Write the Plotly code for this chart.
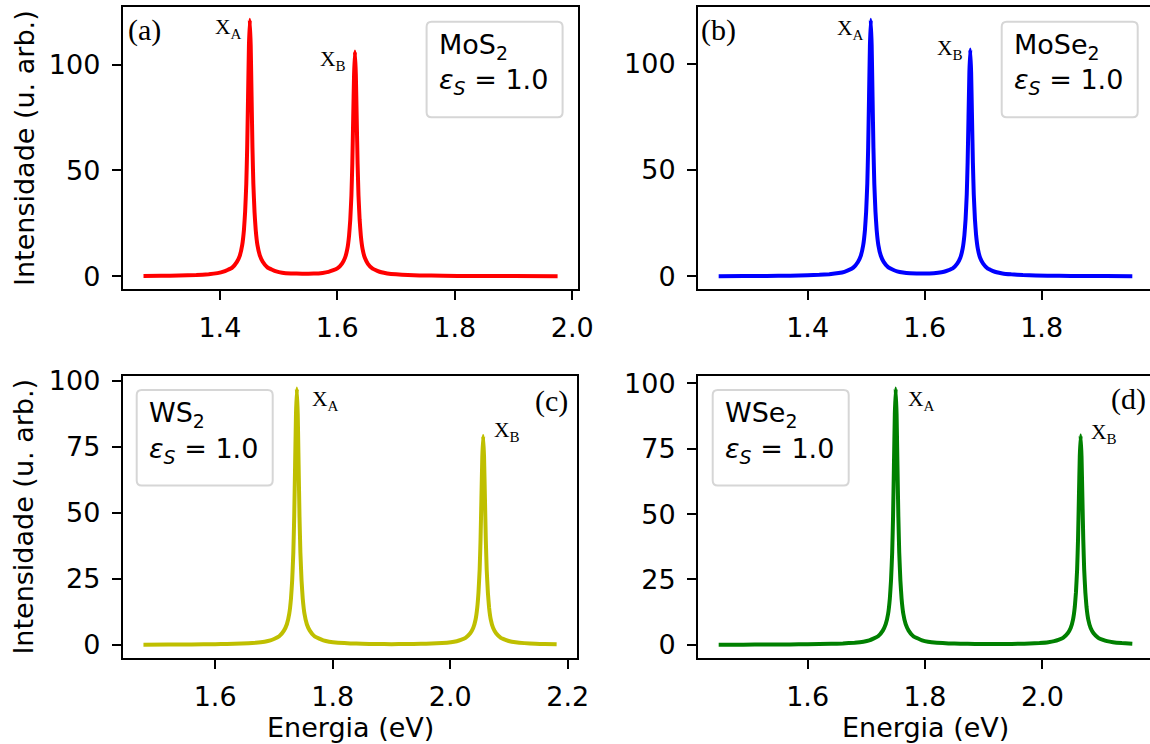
import plotly.graph_objects as go

W, H = 1150, 744

# ---------------- data ----------------
# (a) MoS2
E_a = [1.270, 1.30, 1.33, 1.36, 1.381, 1.396, 1.406, 1.413, 1.421, 1.429, 1.434, 1.438, 1.441, 1.443,
       1.445, 1.4465, 1.448, 1.4495, 1.451, 1.4525, 1.454, 1.4555, 1.457, 1.459, 1.461, 1.464, 1.468,
       1.473, 1.481, 1.489, 1.496, 1.506, 1.521, 1.54, 1.56, 1.575, 1.585, 1.592, 1.600, 1.608, 1.613,
       1.617, 1.620, 1.622, 1.624, 1.6255, 1.627, 1.6285, 1.630, 1.6315, 1.633, 1.6345, 1.636, 1.638,
       1.640, 1.643, 1.647, 1.652, 1.660, 1.668, 1.675, 1.685, 1.70, 1.72, 1.74, 1.78, 1.83, 1.90, 1.975]
I_a = [0.15, 0.22, 0.34, 0.6, 0.98, 1.5, 2.16, 3.0, 4.1, 6.8, 9.8, 14.7, 21.9, 30.4,
       43.7, 60.6, 84.8, 109.0, 121.2, 109.1, 84.9, 60.7, 43.8, 30.4, 22.0, 14.7, 9.9,
       6.9, 4.2, 3.1, 2.3, 1.7, 1.35, 1.25, 1.27, 1.6, 2.1, 2.75, 3.7, 6.0, 8.7,
       12.9, 19.3, 26.7, 38.3, 53.2, 74.4, 95.5, 106.2, 95.5, 74.4, 53.2, 38.3, 26.6,
       19.2, 12.8, 8.6, 5.9, 3.6, 2.6, 1.9, 1.35, 0.93, 0.62, 0.43, 0.25, 0.14, 0.08, 0.05]

# (b) MoSe2
E_b = [1.248, 1.29, 1.33, 1.37, 1.40, 1.42, 1.437, 1.453, 1.463, 1.470, 1.478, 1.486, 1.491, 1.495,
       1.498, 1.500, 1.502, 1.5035, 1.505, 1.5065, 1.508, 1.5095, 1.511, 1.5125, 1.514, 1.516, 1.518,
       1.521, 1.525, 1.530, 1.538, 1.546, 1.553, 1.563, 1.575, 1.593, 1.608, 1.623, 1.633, 1.640, 1.648,
       1.656, 1.661, 1.665, 1.668, 1.670, 1.672, 1.6735, 1.675, 1.6765, 1.678, 1.6795, 1.681, 1.6825,
       1.684, 1.686, 1.688, 1.691, 1.695, 1.700, 1.708, 1.716, 1.723, 1.733, 1.748, 1.768, 1.79, 1.83,
       1.87, 1.91, 1.955]
I_b = [0.08, 0.12, 0.19, 0.3, 0.48, 0.7, 1.02, 1.55, 2.13, 2.9, 4.08, 6.74, 9.76, 14.6,
       21.8, 30.25, 43.5, 60.4, 84.5, 108.6, 120.65, 108.6, 84.5, 60.4, 43.5, 30.3, 21.9,
       14.6, 9.8, 6.8, 4.2, 3.1, 2.35, 1.8, 1.46, 1.36, 1.35, 1.7, 2.15, 2.8, 3.76,
       6.1, 8.74, 13.0, 19.4, 26.8, 38.5, 53.4, 74.7, 96.0, 106.7, 96.0, 74.7, 53.4,
       38.5, 26.8, 19.3, 12.9, 8.6, 6.0, 3.6, 2.6, 1.9, 1.35, 0.93, 0.6, 0.42, 0.25,
       0.16, 0.1, 0.07]

# (c) WS2
E_c = [1.478, 1.52, 1.56, 1.60, 1.62, 1.645, 1.669, 1.684, 1.694, 1.701, 1.709, 1.717, 1.722, 1.726,
       1.729, 1.731, 1.733, 1.7345, 1.736, 1.7375, 1.739, 1.7405, 1.742, 1.7435, 1.745, 1.747, 1.749,
       1.752, 1.756, 1.761, 1.769, 1.777, 1.784, 1.794, 1.809, 1.83, 1.85, 1.875, 1.90, 1.925, 1.95,
       1.968, 1.986, 2.001, 2.011, 2.018, 2.026, 2.034, 2.039, 2.043, 2.046, 2.048, 2.050, 2.0515, 2.053,
       2.0545, 2.056, 2.0575, 2.059, 2.0605, 2.062, 2.064, 2.066, 2.069, 2.073, 2.078, 2.086, 2.094,
       2.101, 2.111, 2.126, 2.145, 2.16, 2.181]
I_c = [0.06, 0.09, 0.15, 0.25, 0.31, 0.5, 0.81, 1.2, 1.68, 2.3, 3.24, 5.38, 7.8, 11.7,
       17.5, 24.3, 34.95, 48.55, 67.95, 87.35, 97.05, 87.35, 67.95, 48.55, 34.95, 24.3, 17.5,
       11.7, 7.8, 5.4, 3.25, 2.35, 1.69, 1.2, 0.83, 0.55, 0.41, 0.32, 0.27, 0.3, 0.38,
       0.5, 0.69, 1.0, 1.39, 1.85, 2.66, 4.4, 6.37, 9.5, 14.25, 19.8, 28.45, 39.55, 55.35,
       71.15, 79.05, 71.15, 55.35, 39.55, 28.45, 19.8, 14.25, 9.5, 6.35, 4.4, 2.65, 1.9,
       1.36, 0.98, 0.65, 0.42, 0.32, 0.23]

# (d) WSe2
E_d = [1.4485, 1.49, 1.53, 1.57, 1.60, 1.64, 1.66, 1.68, 1.695, 1.705, 1.712, 1.72, 1.728, 1.733,
       1.737, 1.740, 1.742, 1.744, 1.7455, 1.747, 1.7485, 1.750, 1.7515, 1.753, 1.7545, 1.756, 1.758,
       1.760, 1.763, 1.767, 1.772, 1.780, 1.788, 1.795, 1.805, 1.82, 1.84, 1.86, 1.885, 1.91, 1.935,
       1.96, 1.978, 1.995, 2.01, 2.02, 2.027, 2.035, 2.043, 2.048, 2.052, 2.055, 2.057, 2.059, 2.0605,
       2.062, 2.0635, 2.065, 2.0665, 2.068, 2.0695, 2.071, 2.073, 2.075, 2.078, 2.082, 2.087, 2.095,
       2.103, 2.11, 2.12, 2.135, 2.153]
I_d = [0.05, 0.07, 0.1, 0.15, 0.2, 0.38, 0.52, 0.81, 1.2, 1.7, 2.35, 3.27, 5.43, 7.88,
       11.8, 17.7, 24.55, 35.3, 49.05, 68.65, 88.25, 98.05, 88.25, 68.65, 49.05, 35.3, 24.55,
       17.7, 11.8, 7.9, 5.45, 3.3, 2.4, 1.71, 1.2, 0.83, 0.55, 0.41, 0.32, 0.27, 0.31,
       0.39, 0.5, 0.7, 1.02, 1.41, 1.88, 2.69, 4.45, 6.45, 9.65, 14.45, 20.05, 28.85, 40.05,
       56.05, 72.05, 80.05, 72.05, 56.05, 40.05, 28.85, 20.05, 14.45, 9.65, 6.45, 4.45, 2.69,
       1.92, 1.4, 0.98, 0.66, 0.45]

materials = ["MoS<sub>2</sub>", "MoSe<sub>2</sub>", "WS<sub>2</sub>", "WSe<sub>2</sub>"]
eps_s = [1.0, 1.0, 1.0, 1.0]
panel_tags = ["(a)", "(b)", "(c)", "(d)"]
peak_names = ["X<sub>A</sub>", "X<sub>B</sub>"]
xticks_a = [1.4, 1.6, 1.8, 2.0]
xticks_b = [1.4, 1.6, 1.8]
xticks_c = [1.6, 1.8, 2.0, 2.2]
xticks_d = [1.6, 1.8, 2.0]
yticks_top = [0, 50, 100]
yticks_bottom = [0, 25, 50, 75, 100]
x_title = "Energia (eV)"
y_title = "Intensidade (u. arb.)"
colors = ["#ff0000", "#0000ff", "#bfbf00", "#008000"]

# ---------------- layout geometry (pixels) ----------------
def px(x):
    return x / W

def py(y):
    return 1 - y / H

# left, right (true, may exceed the window), top, bottom
geo = [(122.8, 578.3, 7, 289), (698, 1153, 7, 289),
       (122.8, 577.3, 375.7, 657.5), (698, 1153, 375.7, 657.5)]
legend_box = [(426.6, 21.7), (1001.7, 21.7), (136.7, 390), (712.7, 390)]
BOX_W, BOX_H = 136, 95.5
tag_pos = [(126, 30, "left"), (699, 30, "left"), (570, 401, "right"), (1148, 399, "right")]
peak_pos = [[(213, 29), (317.5, 60)], [(834.5, 30), (935, 50)],
            [(310, 400), (492, 431.7)], [(906, 400), (1089, 433)]]

series = [(E_a, I_a), (E_b, I_b), (E_c, I_c), (E_d, I_d)]
xticks = [xticks_a, xticks_b, xticks_c, xticks_d]
yticks = [yticks_top, yticks_top, yticks_bottom, yticks_bottom]

FONT = "DejaVu Sans"
SERIF = "Liberation Serif"
FS = 27

fig = go.Figure()
annotations = []
shapes = []
layout_axes = {}

for i, ((E, I), (l, r, t, b)) in enumerate(zip(series, geo)):
    n = "" if i == 0 else str(i + 1)
    fig.add_trace(go.Scatter(x=E, y=I, mode="lines",
                             line=dict(color=colors[i], width=4, shape="spline", smoothing=0.3),
                             xaxis="x" + n, yaxis="y" + n, showlegend=False,
                             hoverinfo="skip"))
    xmin, xmax = min(E), max(E)
    xs = xmax - xmin
    x0, x1 = xmin - 0.05 * xs, xmax + 0.05 * xs
    vis_r = min(r, W)
    x1v = x0 + (x1 - x0) * (vis_r - l) / (r - l)
    ymin, ymax = min(I), max(I)
    ys = ymax - ymin
    y0, y1 = ymin - 0.05 * ys, ymax + 0.05 * ys
    left_panel = (i % 2 == 0)
    layout_axes["xaxis" + n] = dict(
        domain=[px(l), px(vis_r)], range=[x0, x1v], anchor="y" + n, automargin=False,
        showline=True, linecolor="black", linewidth=2, mirror=True,
        ticks="outside", ticklen=9, tickwidth=2, tickcolor="black",
        tickvals=xticks[i], ticktext=["%.1f" % v for v in xticks[i]],
        tickfont=dict(family=FONT, size=FS, color="black"),
        showgrid=False, zeroline=False, ticklabelstandoff=5)
    layout_axes["yaxis" + n] = dict(
        domain=[py(b), py(t)], range=[y0, y1], anchor="x" + n, automargin=False,
        showline=True, linecolor="black", linewidth=2, mirror=left_panel,
        ticks="outside", ticklen=9, tickwidth=2, tickcolor="black",
        tickvals=yticks[i], ticktext=[str(v) for v in yticks[i]],
        tickfont=dict(family=FONT, size=FS, color="black"),
        showgrid=False, zeroline=False, ticklabelstandoff=6)

    # legend-like box with rounded corners
    bx, by = legend_box[i]
    rr = 5
    xa, xb_ = bx, bx + BOX_W
    ya, yb = by, by + BOX_H
    path = (f"M {px(xa + rr)},{py(ya)} L {px(xb_ - rr)},{py(ya)} Q {px(xb_)},{py(ya)} {px(xb_)},{py(ya + rr)} "
            f"L {px(xb_)},{py(yb - rr)} Q {px(xb_)},{py(yb)} {px(xb_ - rr)},{py(yb)} "
            f"L {px(xa + rr)},{py(yb)} Q {px(xa)},{py(yb)} {px(xa)},{py(yb - rr)} "
            f"L {px(xa)},{py(ya + rr)} Q {px(xa)},{py(ya)} {px(xa + rr)},{py(ya)} Z")
    shapes.append(dict(type="path", xref="paper", yref="paper", path=path,
                       line=dict(color="#d6d6d6", width=2), fillcolor="white", layer="above"))
    annotations.append(dict(xref="paper", yref="paper", x=px(bx + 10), y=py(by + 25),
                            xanchor="left", yanchor="middle", showarrow=False,
                            text=materials[i],
                            font=dict(family=FONT, size=FS, color="black")))
    annotations.append(dict(xref="paper", yref="paper", x=px(bx + 10), y=py(by + 60),
                            xanchor="left", yanchor="middle", showarrow=False,
                            text="<i>ε</i><sub><i>S</i></sub> = %.1f" % eps_s[i],
                            font=dict(family=FONT, size=FS, color="black")))
    # panel tag
    tx, ty, anc = tag_pos[i]
    annotations.append(dict(xref="paper", yref="paper", x=px(tx), y=py(ty), xanchor=anc,
                            yanchor="middle", showarrow=False, text=panel_tags[i],
                            font=dict(family=SERIF, size=30, color="black")))
    # peak labels
    for (lx, ly), name in zip(peak_pos[i], peak_names):
        annotations.append(dict(xref="paper", yref="paper", x=px(lx), y=py(ly), xanchor="left",
                                yanchor="middle", showarrow=False, text=name,
                                font=dict(family=SERIF, size=21.5, color="black")))

# axis titles
for (l, r, t, b) in [geo[0], geo[2]]:
    annotations.append(dict(xref="paper", yref="paper", x=px(24), y=py((t + b) / 2),
                            xanchor="center", yanchor="middle", textangle=-90, showarrow=False,
                            text=y_title, font=dict(family=FONT, size=FS, color="black")))
for (l, r, t, b) in [geo[2], geo[3]]:
    annotations.append(dict(xref="paper", yref="paper", x=px((l + r) / 2), y=py(727),
                            xanchor="center", yanchor="middle", showarrow=False,
                            text=x_title, font=dict(family=FONT, size=FS, color="black")))

fig.update_layout(template="none", width=W, height=H, margin=dict(l=0, r=0, t=0, b=0, pad=0),
                  paper_bgcolor="white", plot_bgcolor="white",
                  annotations=annotations, shapes=shapes, **layout_axes)

fig.write_html("out.html")
